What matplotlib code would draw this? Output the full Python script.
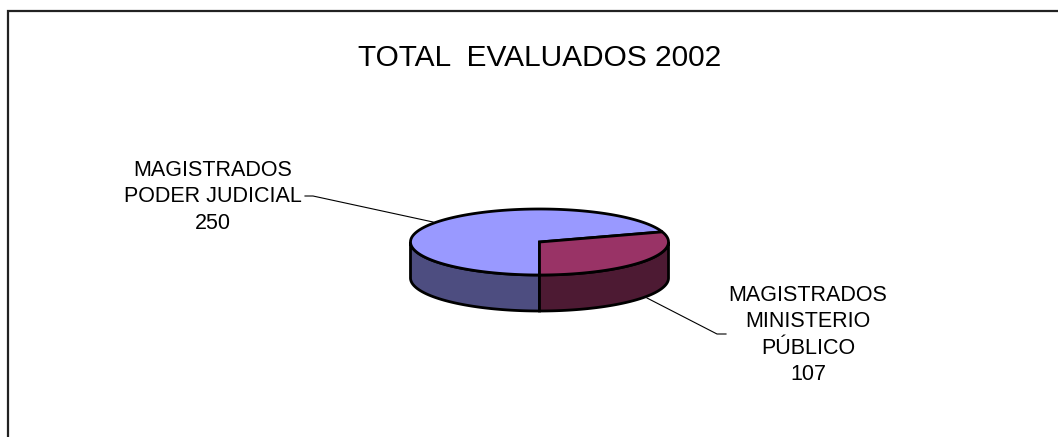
#!/usr/bin/python3
import numpy as np
import matplotlib
matplotlib.use("Agg")
import matplotlib.pyplot as plt
from matplotlib.patches import Polygon

title = "TOTAL  EVALUADOS 2002"
labels = ["MAGISTRADOS\nPODER JUDICIAL\n250", "MAGISTRADOS\nMINISTERIO\nPÚBLICO\n107"]
values = [250, 107]
top_colors = ["#9999FF", "#993366"]
side_colors = ["#4D4D80", "#4D1A33"]

W, H = 1058, 437
plt.rcParams["font.family"] = ["Liberation Sans", "DejaVu Sans"]

fig = plt.figure(figsize=(W / 100, H / 100), dpi=100)
ax = fig.add_axes([0, 0, 1, 1])
ax.set_xlim(0, W)
ax.set_ylim(H, 0)
ax.axis("off")

# frame is cut off by the image at the right and the bottom
ax.plot([8, 8, W], [H, 11, 11], color="#222222", lw=1.6, solid_joinstyle="miter")

ax.text(540, 58, title, fontsize=21.5, ha="center", va="center")

cx, cy = 539.5, 242
rx, ry = 129, 33
depth = 36
lw_pie = 2.0


def point(a):
    return cx + rx * np.cos(a), cy - ry * np.sin(a)


# second slice runs from straight down, counter clockwise, by its share
end = -np.pi / 2
start = end + 2 * np.pi * values[1] / sum(values)

# side walls
t = np.linspace(np.pi, 3 * np.pi / 2, 80)
x, y = point(t)
ax.add_patch(Polygon(np.r_[np.c_[x, y], np.c_[x, y + depth][::-1]], fc=side_colors[0], ec="black", lw=lw_pie))
t = np.linspace(3 * np.pi / 2, 2 * np.pi, 80)
x, y = point(t)
ax.add_patch(Polygon(np.r_[np.c_[x, y], np.c_[x, y + depth][::-1]], fc=side_colors[1], ec="black", lw=lw_pie))

# top faces
t = np.linspace(start, 3 * np.pi / 2, 200)
x, y = point(t)
ax.add_patch(Polygon(np.r_[np.c_[x, y], [[cx, cy]]], fc=top_colors[0], ec="black", lw=lw_pie))
t = np.linspace(end, start, 80)
x, y = point(t)
ax.add_patch(Polygon(np.r_[np.c_[x, y], [[cx, cy]]], fc=top_colors[1], ec="black", lw=lw_pie))

ax.text(213, 197, labels[0], fontsize=15.5, ha="center", va="center", linespacing=1.32)
ax.text(808, 335, labels[1], fontsize=15.5, ha="center", va="center", linespacing=1.32)

ax.plot([305, 313, 433], [196, 196, 222], color="black", lw=0.8, zorder=0)
ax.plot([647, 717, 726], [298, 334, 334], color="black", lw=0.8, zorder=0)

fig.savefig("out.png", dpi=100)
